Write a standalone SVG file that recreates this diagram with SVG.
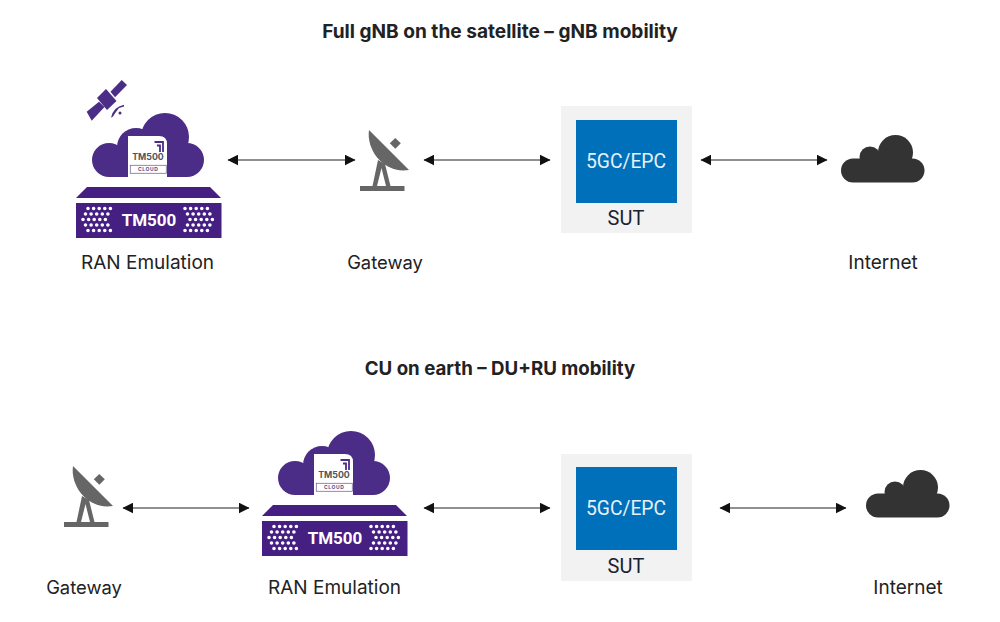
<svg xmlns="http://www.w3.org/2000/svg" xmlns:xlink="http://www.w3.org/1999/xlink" width="1000" height="622" viewBox="0 0 1000 622">
<style>
text{font-family:Inter,"Liberation Sans",sans-serif;text-anchor:middle}
.t{font-size:19.1px;font-weight:700;fill:#222}
.l{font-size:19px;fill:#222}
.g{font-size:18.400px;fill:#222}
.c{stroke:#222;stroke-width:1.2;fill:none;marker-start:url(#ah);marker-end:url(#ah)}
.d{stroke:#fff;stroke-width:3.6;stroke-linecap:round;stroke-dasharray:0 5.6;fill:none}
.p{fill:#4b2c86}
.b{fill:#451f82}
.box{font-family:Roboto,"Liberation Sans",sans-serif;font-size:19.300px;fill:#e8f1f8}
.sut{font-family:Roboto,"Liberation Sans",sans-serif;font-size:20px;fill:#1a2233}
</style>
<defs>
<marker id="ah" viewBox="0 0 10 10" refX="9.5" refY="5" markerUnits="userSpaceOnUse" markerWidth="11" markerHeight="11" orient="auto-start-reverse"><path d="M0 0L10 5L0 10Z" fill="#111"/></marker>
<g id="tm">
<g class="p"><circle cx="109" cy="160" r="17"/><circle cx="187" cy="160" r="17"/><circle cx="165" cy="137" r="24"/><circle cx="136" cy="147" r="19"/><rect x="109" y="148" width="78" height="29"/></g>
<path d="M128 177V136H159Q167 136 167 144V177Z" fill="#fff"/>
<path d="M154.500 142H163V152M157 145.500H160V152" fill="none" stroke="#4b2c86" stroke-width="1.8"/>
<text x="148" y="160" font-size="8.800" font-weight="700" fill="#555">TM500</text>
<rect x="130.300" y="165.300" width="36" height="8" fill="#fff" stroke="#7d68a8" stroke-width=".8"/>
<text x="148.300" y="171.400" font-size="5" font-weight="700" letter-spacing=".6" fill="#5b4a86">CLOUD</text>
<path class="b" d="M76 198L87 187H210L221 198Z"/>
<rect class="b" x="76" y="203" width="145.500" height="35"/>
<text x="149" y="226" font-size="17" font-weight="700" fill="#fff" style="font-family:Roboto,sans-serif">TM500</text>
<path class="d" d="M88 208.500H114M185 208.500H211M85.500 214H111M187.500 214H213M83 219.500H108.500M190 219.500H216M85.500 225H111M187.500 225H213M88 230.500H114M185 230.500H211"/>
</g>
<g id="dish" fill="#666">
<path d="M369 130L409 170C384 174 366 150 369 130Z"/>
<path d="M378 160L372.500 186H377L381.500 168L386 186H390.500L385 164Z"/>
<rect x="360" y="186" width="44.500" height="5"/>
<path d="M395.300 138L400.800 143.300L395.300 148.800L389.800 143.300Z"/>
</g>
<g id="cl" fill="#333">
<rect x="841" y="158.500" width="83.500" height="24" rx="12"/>
<circle cx="895.500" cy="152.500" r="17.500"/>
<circle cx="870" cy="157" r="10.500"/>
</g>
</defs>
<g id="titles">
<text class="t" x="500" y="38">Full gNB on the satellite – gNB mobility</text>
<text class="t" x="500" y="375" style="font-size:18.700px">CU on earth – DU+RU mobility</text>
</g>
<g id="connectors">
<path class="c" d="M228 160H355"/>
<path class="c" d="M424 160H550"/>
<path class="c" d="M701 160H827"/>
<path class="c" d="M123 508H249"/>
<path class="c" d="M424 508H550"/>
<path class="c" d="M720 508H846"/>
</g>
<g id="satellite" class="p">
<path d="M97 98L106 89L116.500 101L107 110Z"/>
<path d="M110.500 91.700L121.700 80L127 85L115 97.300Z"/>
<path d="M86.700 111.700L99 101.700L104.500 107L91.700 120.700Z"/>
<path d="M111 117.700Q113 107 124 104.700L124 106.500L119 108Q115 113 113 116.500Z"/>
<circle cx="120" cy="113" r="1.500"/>
</g>
<g id="ran-top"><use xlink:href="#tm" href="#tm"/><text class="l" x="147.500" y="268.500">RAN Emulation</text></g>
<g id="gateway-top"><use xlink:href="#dish" href="#dish"/><text class="g" x="385" y="268.500">Gateway</text></g>
<g id="sut-top"><rect x="561" y="106" width="131" height="127" fill="#f2f2f2"/><rect x="576" y="120" width="101" height="83" fill="#0070bb"/><text class="box" x="626" y="168">5GC/EPC</text><text class="sut" x="626" y="225">SUT</text></g>
<g id="internet-top"><use xlink:href="#cl" href="#cl"/><text class="l" x="883" y="268.500">Internet</text></g>
<g id="gateway-bottom"><use xlink:href="#dish" href="#dish" transform="translate(-296 336)"/><text class="g" x="84" y="593.500">Gateway</text></g>
<g id="ran-bottom"><use xlink:href="#tm" href="#tm" transform="translate(186 318)"/><text class="l" x="334.500" y="593.500">RAN Emulation</text></g>
<g id="sut-bottom"><rect x="561" y="454" width="131" height="127" fill="#f2f2f2"/><rect x="576" y="467" width="101" height="83" fill="#0070bb"/><text class="box" x="626" y="515">5GC/EPC</text><text class="sut" x="626" y="573">SUT</text></g>
<g id="internet-bottom"><use xlink:href="#cl" href="#cl" transform="translate(25 335)"/><text class="l" x="908" y="593.500">Internet</text></g>
</svg>
